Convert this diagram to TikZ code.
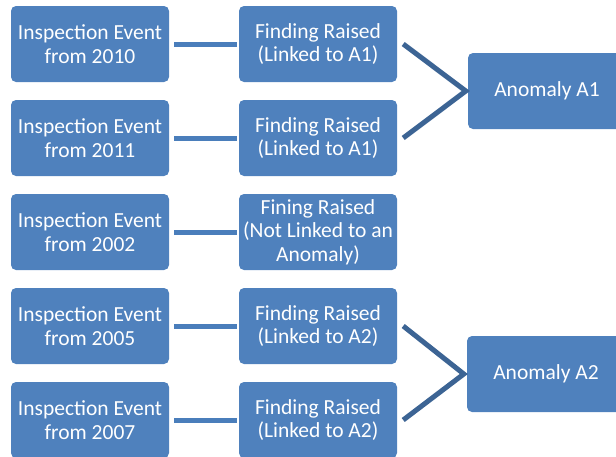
\documentclass[tikz,border=0pt]{standalone}
\usepackage{fontspec}
\setmainfont{Carlito}
\usetikzlibrary{positioning}
\definecolor{boxBlue}{HTML}{4F81BD}
\definecolor{linkBlue}{HTML}{4A7EBB}
\definecolor{chevBlue}{HTML}{3C6494}

\begin{document}
\begin{tikzpicture}[
    x=1pt, y=-1pt,
    box/.style={fill=boxBlue, rounded corners=5pt, text=white, align=center,
                minimum width=158pt, minimum height=76pt, inner sep=2pt,
                font=\fontsize{21.5}{23.5}\selectfont},
    link/.style={line width=5pt, draw=linkBlue},
    chev/.style={line width=5pt, draw=chevBlue},
]
\useasboundingbox (0,0) rectangle (616,456);

% inspection events, one per row
\foreach \i/\yr/\y in {1/2010/44, 2/2011/138, 3/2002/232, 4/2005/326, 5/2007/420}
    \node[box] (ev\i) at (90,\y) {Inspection Event\\from \yr};

% findings
\node[box] (fd1) at (318,44) {Finding Raised\\(Linked to A1)};
\node[box] (fd2) at (318,138) {Finding Raised\\(Linked to A1)};
\node[box] (fd3) at (318,232) {Fining Raised\\(Not Linked to an\\Anomaly)};
\node[box] (fd4) at (318,326) {Finding Raised\\(Linked to A2)};
\node[box] (fd5) at (318,420) {Finding Raised\\(Linked to A2)};

% anomalies, partly off the right edge
\node[box] (an1) at (547,91) {Anomaly A1};
\node[box] (an2) at (546,374) {Anomaly A2};

% event -> finding
\foreach \i in {1,...,5}
    \draw[link] ([xshift=5pt]ev\i.east) -- ([xshift=-2pt]fd\i.west);

% finding -> anomaly
\draw[chev] ([xshift=6pt]fd1.east) -- ([xshift=-2pt]an1.west) -- ([xshift=6pt]fd2.east);
\draw[chev] ([xshift=6pt]fd4.east) -- ([xshift=-3pt]an2.west) -- ([xshift=6pt]fd5.east);
\end{tikzpicture}
\end{document}
